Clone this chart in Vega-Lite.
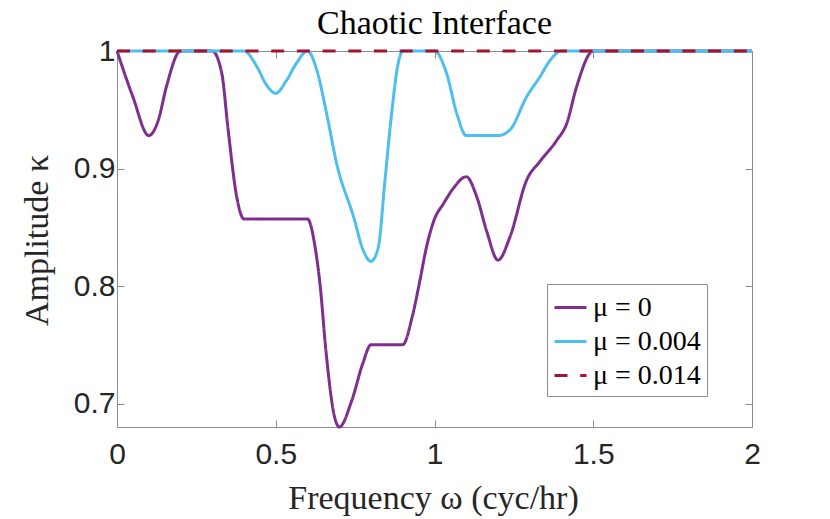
{
  "$schema": "https://vega.github.io/schema/vega-lite/v6.json",
  "width": 635,
  "height": 376,
  "autosize": {"type": "none"},
  "padding": {"left": 117, "top": 51, "right": 78, "bottom": 92},
  "background": "white",
  "title": {
    "text": "Chaotic Interface",
    "font": "Liberation Serif",
    "fontSize": 34,
    "fontWeight": "normal",
    "color": "#000000",
    "anchor": "middle",
    "offset": 3,
    "dy": 8
  },
  "data": {
    "values": [
      {"s": "μ = 0", "w": 0, "k": 1.0},
      {"s": "μ = 0", "w": 0.05, "k": 0.961},
      {"s": "μ = 0", "w": 0.1, "k": 0.928},
      {"s": "μ = 0", "w": 0.13, "k": 0.941},
      {"s": "μ = 0", "w": 0.156, "k": 0.97},
      {"s": "μ = 0", "w": 0.2, "k": 1.0},
      {"s": "μ = 0", "w": 0.3, "k": 1.0},
      {"s": "μ = 0", "w": 0.33, "k": 0.981},
      {"s": "μ = 0", "w": 0.35, "k": 0.933},
      {"s": "μ = 0", "w": 0.377, "k": 0.876},
      {"s": "μ = 0", "w": 0.4, "k": 0.857},
      {"s": "μ = 0", "w": 0.6, "k": 0.857},
      {"s": "μ = 0", "w": 0.624, "k": 0.833},
      {"s": "μ = 0", "w": 0.64, "k": 0.8},
      {"s": "μ = 0", "w": 0.658, "k": 0.745},
      {"s": "μ = 0", "w": 0.685, "k": 0.689},
      {"s": "μ = 0", "w": 0.7, "k": 0.68},
      {"s": "μ = 0", "w": 0.74, "k": 0.703},
      {"s": "μ = 0", "w": 0.774, "k": 0.734},
      {"s": "μ = 0", "w": 0.8, "k": 0.75},
      {"s": "μ = 0", "w": 0.9, "k": 0.75},
      {"s": "μ = 0", "w": 0.93, "k": 0.774},
      {"s": "μ = 0", "w": 0.955, "k": 0.806},
      {"s": "μ = 0", "w": 0.973, "k": 0.831},
      {"s": "μ = 0", "w": 1.0, "k": 0.857},
      {"s": "μ = 0", "w": 1.028, "k": 0.87},
      {"s": "μ = 0", "w": 1.059, "k": 0.883},
      {"s": "μ = 0", "w": 1.1, "k": 0.893},
      {"s": "μ = 0", "w": 1.133, "k": 0.876},
      {"s": "μ = 0", "w": 1.164, "k": 0.847},
      {"s": "μ = 0", "w": 1.2, "k": 0.822},
      {"s": "μ = 0", "w": 1.238, "k": 0.842},
      {"s": "μ = 0", "w": 1.29, "k": 0.89},
      {"s": "μ = 0", "w": 1.332, "k": 0.906},
      {"s": "μ = 0", "w": 1.385, "k": 0.924},
      {"s": "μ = 0", "w": 1.416, "k": 0.938},
      {"s": "μ = 0", "w": 1.448, "k": 0.97},
      {"s": "μ = 0", "w": 1.5, "k": 1.0},
      {"s": "μ = 0", "w": 2.0, "k": 1.0},
      {"s": "μ = 0.004", "w": 0, "k": 1.0},
      {"s": "μ = 0.004", "w": 0.4, "k": 1.0},
      {"s": "μ = 0.004", "w": 0.44, "k": 0.987},
      {"s": "μ = 0.004", "w": 0.471, "k": 0.971},
      {"s": "μ = 0.004", "w": 0.5, "k": 0.964},
      {"s": "μ = 0.004", "w": 0.534, "k": 0.975},
      {"s": "μ = 0.004", "w": 0.566, "k": 0.99},
      {"s": "μ = 0.004", "w": 0.6, "k": 1.0},
      {"s": "μ = 0.004", "w": 0.629, "k": 0.984},
      {"s": "μ = 0.004", "w": 0.66, "k": 0.947},
      {"s": "μ = 0.004", "w": 0.692, "k": 0.904},
      {"s": "μ = 0.004", "w": 0.745, "k": 0.859},
      {"s": "μ = 0.004", "w": 0.776, "k": 0.83},
      {"s": "μ = 0.004", "w": 0.8, "k": 0.821},
      {"s": "μ = 0.004", "w": 0.823, "k": 0.833},
      {"s": "μ = 0.004", "w": 0.844, "k": 0.89},
      {"s": "μ = 0.004", "w": 0.865, "k": 0.947},
      {"s": "μ = 0.004", "w": 0.886, "k": 0.99},
      {"s": "μ = 0.004", "w": 0.9, "k": 1.0},
      {"s": "μ = 0.004", "w": 1.0, "k": 1.0},
      {"s": "μ = 0.004", "w": 1.038, "k": 0.981},
      {"s": "μ = 0.004", "w": 1.07, "k": 0.947},
      {"s": "μ = 0.004", "w": 1.1, "k": 0.928},
      {"s": "μ = 0.004", "w": 1.2, "k": 0.928},
      {"s": "μ = 0.004", "w": 1.238, "k": 0.933},
      {"s": "μ = 0.004", "w": 1.29, "k": 0.961},
      {"s": "μ = 0.004", "w": 1.332, "k": 0.978},
      {"s": "μ = 0.004", "w": 1.364, "k": 0.992},
      {"s": "μ = 0.004", "w": 1.4, "k": 1.0},
      {"s": "μ = 0.004", "w": 2.0, "k": 1.0},
      {"s": "μ = 0.014", "w": 0, "k": 1.0},
      {"s": "μ = 0.014", "w": 2.0, "k": 1.0}
    ]
  },
  "layer": [
    {
      "mark": {"type": "line", "strokeWidth": 3, "interpolate": "monotone", "clip": false},
      "encoding": {
        "x": {
          "field": "w",
          "type": "quantitative",
          "scale": {"domain": [0, 2], "nice": false},
          "axis": {
            "orient": "bottom",
            "values": [0, 0.5, 1, 1.5, 2],
            "format": "~g",
            "labelPadding": 19,
            "title": "Frequency ω (cyc/hr)",
            "titleX": 316,
            "titleY": 81,
            "titleBaseline": "alphabetic",
            "titleAnchor": null
          }
        },
        "y": {
          "field": "k",
          "type": "quantitative",
          "scale": {"domain": [0.68, 1], "nice": false, "zero": false},
          "axis": {
            "orient": "left",
            "values": [0.7, 0.8, 0.9, 1],
            "format": "~g",
            "labelPadding": 9,
            "title": "Amplitude κ",
            "titleX": -80,
            "titleY": 189,
            "titleAngle": -90,
            "titleBaseline": "middle",
            "titleAlign": "center"
          }
        },
        "color": {
          "field": "s",
          "type": "nominal",
          "scale": {"domain": ["μ = 0", "μ = 0.004", "μ = 0.014"], "range": ["#7E2F8E", "#4DBEEE", "#A2142F"]},
          "legend": {
            "orient": "none",
            "legendX": 430,
            "legendY": 233,
            "title": null,
            "symbolType": "stroke",
            "symbolSize": 1024,
            "symbolStrokeWidth": 3,
            "labelFont": "Liberation Serif",
            "labelFontSize": 28,
            "labelColor": "#000000",
            "strokeColor": "#8c8c8c",
            "fillColor": "white",
            "padding": 6,
            "rowPadding": 2,
            "labelOffset": 5
          }
        },
        "strokeDash": {
          "field": "s",
          "type": "nominal",
          "scale": {"domain": ["μ = 0", "μ = 0.004", "μ = 0.014"], "range": [[1, 0], [1, 0], [13, 12.7]]},
          "legend": {
            "orient": "none",
            "legendX": 430,
            "legendY": 233,
            "title": null,
            "symbolType": "stroke",
            "symbolSize": 1024,
            "symbolStrokeWidth": 3,
            "labelFont": "Liberation Serif",
            "labelFontSize": 28,
            "labelColor": "#000000",
            "strokeColor": "#8c8c8c",
            "fillColor": "white",
            "padding": 6,
            "rowPadding": 2,
            "labelOffset": 5
          }
        }
      }
    },
    {
      "mark": {"type": "line", "opacity": 0},
      "encoding": {
        "x": {
          "field": "w",
          "type": "quantitative",
          "axis": {"orient": "top", "values": [0, 0.5, 1, 1.5, 2], "labels": false, "title": null}
        },
        "y": {
          "field": "k",
          "type": "quantitative",
          "axis": {"orient": "right", "values": [0.7, 0.8, 0.9, 1], "labels": false, "title": null}
        },
        "detail": {"field": "s", "type": "nominal"}
      }
    }
  ],
  "resolve": {"axis": {"x": "independent", "y": "independent"}},
  "config": {
    "view": {"stroke": "#8c8c8c", "strokeWidth": 1},
    "axis": {
      "domain": false,
      "grid": false,
      "tickColor": "#8c8c8c",
      "tickSize": -7,
      "tickWidth": 1,
      "labelFont": "Liberation Sans",
      "labelFontSize": 30,
      "labelColor": "#262626",
      "labelFlush": false,
      "labelOverlap": false,
      "titleFont": "Liberation Serif",
      "titleFontSize": 34,
      "titleFontWeight": "normal",
      "titleColor": "#262626"
    }
  }
}
